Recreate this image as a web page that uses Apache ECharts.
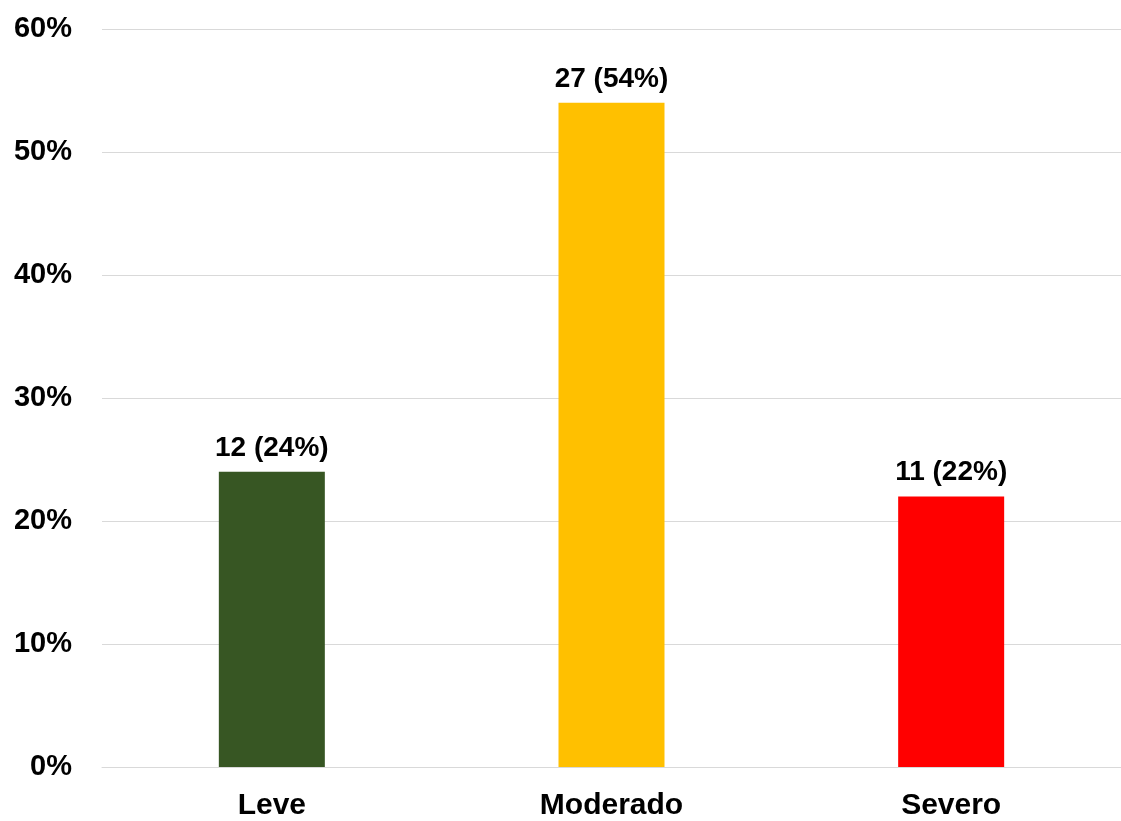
<!DOCTYPE html>
<html>
<head>
<meta charset="utf-8">
<title>Severidade</title>
<script src="https://cdn.jsdelivr.net/npm/echarts@6/dist/echarts.min.js"></script>
<style>
  html, body { margin: 0; padding: 0; background: #ffffff; }
  #chart { width: 1121px; height: 821px; }
</style>
</head>
<body>
<div id="chart"></div>
<script>
// Severity categories, patient counts and the share of each group
const categories = ['Leve', 'Moderado', 'Severo'];
const counts = [12, 27, 11];
const percents = [24, 54, 22];
const barColors = ['#375623', '#FFC000', '#FF0000'];
const yTicks = [0, 10, 20, 30, 40, 50, 60];

const font = '"Liberation Sans", Arial, sans-serif';

const chart = echarts.init(document.getElementById('chart'));
chart.setOption({
  animation: false,
  backgroundColor: '#ffffff',
  grid: { left: 102, right: 0, top: 29, bottom: 52, containLabel: false },
  xAxis: {
    type: 'category',
    data: categories,
    axisLine: { show: true, lineStyle: { color: '#d9d9d9', width: 1 } },
    axisTick: { show: false },
    axisLabel: {
      color: '#000', fontFamily: font, fontWeight: 'bold', fontSize: 30, margin: 24
    }
  },
  yAxis: {
    type: 'value',
    min: yTicks[0],
    max: yTicks[yTicks.length - 1],
    interval: 10,
    axisLine: { show: false },
    axisTick: { show: false },
    splitLine: { lineStyle: { color: '#d9d9d9', width: 1 } },
    axisLabel: {
      color: '#000', fontFamily: font, fontWeight: 'bold', fontSize: 29, margin: 30,
      formatter: v => v + '%'
    }
  },
  series: [{
    type: 'bar',
    barWidth: 106,
    data: percents.map((p, i) => ({ value: p, itemStyle: { color: barColors[i] } })),
    label: {
      show: true,
      position: 'top',
      distance: 10,
      color: '#000',
      fontFamily: font,
      fontWeight: 'bold',
      fontSize: 28,
      formatter: p => counts[p.dataIndex] + ' (' + percents[p.dataIndex] + '%)'
    }
  }]
});
</script>
</body>
</html>
